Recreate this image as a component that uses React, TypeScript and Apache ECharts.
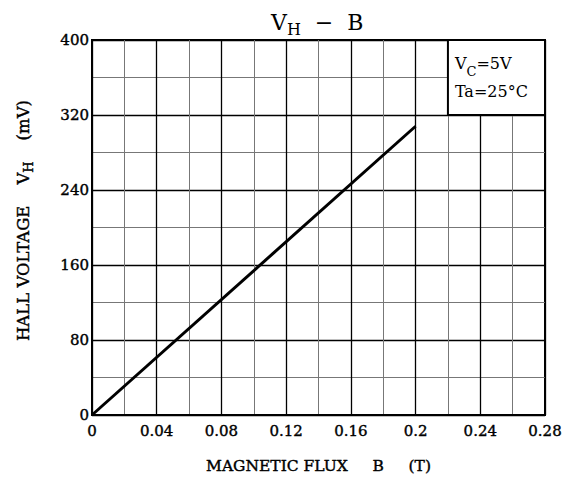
import React, { useEffect, useRef } from "react";
import * as echarts from "echarts";

const fluxB = [0, 0.2];
const hallVoltage = [0, 308];
const boxX = [0.22, 0.28];
const boxY = [320, 400];
const xTicks = { min: 0, max: 0.28, interval: 0.04 };
const yTicks = { min: 0, max: 400, interval: 80 };

const FONT = "DejaVu Serif";
const heavy = { textBorderColor: "#000", textBorderWidth: 0.4 };

export default function App() {
  const ref = useRef<HTMLDivElement>(null);
  useEffect(() => {
    const chart = echarts.init(ref.current!, null, { renderer: "svg" });
    chart.setOption({
      animation: false,
      backgroundColor: "#fff",
      title: {
        text: "{v|V}{s|H}{v|  −  B}",
        left: 266,
        top: 2,
        textStyle: {
          rich: {
            v: { fontFamily: FONT, fontSize: 22, fontWeight: "normal", color: "#000", lineHeight: 30 },
            s: { fontFamily: FONT, fontSize: 16, fontWeight: "normal", color: "#000", lineHeight: 14, verticalAlign: "bottom" },
          },
        },
      },
      grid: {
        left: 92,
        right: 26,
        top: 40,
        bottom: 70,
        show: true,
        borderColor: "#000",
        borderWidth: 2,
        backgroundColor: "#fff",
      },
      xAxis: {
        type: "value",
        min: xTicks.min,
        max: xTicks.max,
        interval: xTicks.interval,
        name: "MAGNETIC FLUX     B     (T)",
        nameLocation: "middle",
        nameGap: 43,
        nameTextStyle: { fontFamily: FONT, fontSize: 15.5, color: "#000", ...heavy },
        axisLine: { show: true, lineStyle: { color: "#000", width: 2 } },
        axisTick: { show: false },
        axisLabel: {
          fontFamily: FONT,
          fontSize: 15,
          color: "#000",
          margin: 8,
          ...heavy,
          formatter: (v: number) => String(Math.round(v * 100) / 100),
        },
        splitLine: { show: true, lineStyle: { color: "#000", width: 1.3 } },
        minorTick: { show: false, splitNumber: 2 },
        minorSplitLine: { show: true, lineStyle: { color: "#777", width: 1 } },
      },
      yAxis: {
        type: "value",
        min: yTicks.min,
        max: yTicks.max,
        interval: yTicks.interval,
        name: "HALL VOLTAGE    V{s|H}    (mV)",
        nameLocation: "middle",
        nameRotate: 90,
        nameGap: 57,
        nameTextStyle: {
          fontFamily: FONT,
          fontSize: 16.5,
          color: "#000",
          lineHeight: 24,
          padding: [0, 0, 0, 14],
          ...heavy,
          rich: {
            s: { fontFamily: FONT, fontSize: 13, color: "#000", lineHeight: 13, verticalAlign: "bottom", ...heavy },
          },
        },
        axisLine: { show: true, lineStyle: { color: "#000", width: 2 } },
        axisTick: { show: false },
        axisLabel: { fontFamily: FONT, fontSize: 15, color: "#000", margin: 3, ...heavy },
        splitLine: { show: true, lineStyle: { color: "#000", width: 1.3 } },
        minorTick: { show: false, splitNumber: 2 },
        minorSplitLine: { show: true, lineStyle: { color: "#777", width: 1 } },
      },
      series: [
        {
          type: "line",
          data: fluxB.map((b, i) => [b, hallVoltage[i]]),
          symbol: "none",
          lineStyle: { color: "#000", width: 3 },
          markArea: {
            silent: true,
            itemStyle: { color: "#fff", borderColor: "#000", borderWidth: 2 },
            label: {
              show: true,
              position: "insideLeft",
              distance: 8,
              formatter: "{v|V}{s|C}{v|=5V}\n{v|Ta=25°C}",
              rich: {
                v: { fontFamily: FONT, fontSize: 16, color: "#000", lineHeight: 28, align: "left" },
                s: { fontFamily: FONT, fontSize: 13, color: "#000", lineHeight: 12, verticalAlign: "bottom", align: "left" },
              },
            },
            data: [[{ coord: [boxX[0], boxY[0]] }, { coord: [boxX[1], boxY[1]] }]],
          },
        },
      ],
    });
    return () => chart.dispose();
  }, []);
  return <div ref={ref} style={{ width: 571, height: 485, marginLeft: -8, marginTop: -8 }} />;
}
